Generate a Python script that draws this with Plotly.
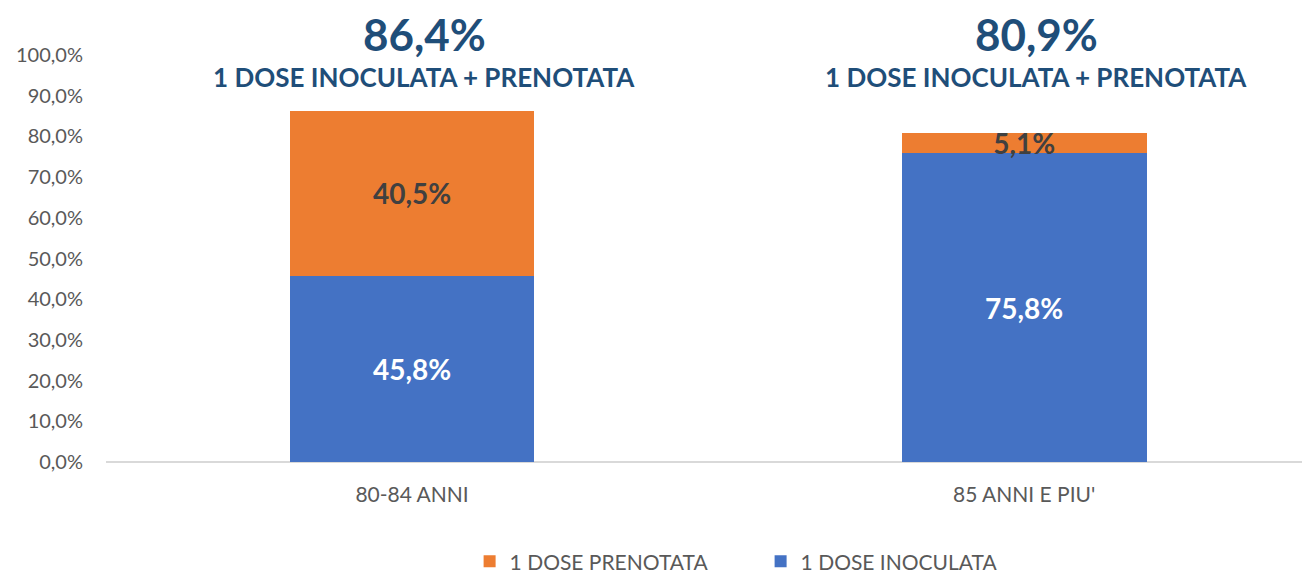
import plotly.graph_objects as go

categories = ["80-84 ANNI", "85 ANNI E PIU'"]
inoculata = [0.458, 0.758]
prenotata = [0.405, 0.051]
totals = [0.864, 0.809]
subtitle = "1 DOSE INOCULATA + PRENOTATA"
yticks = [i / 10 for i in range(11)]


def pct(v):
    return f"{v*100:.1f}%".replace(".", ",")


FONT = "Lato, Open Sans, sans-serif"
BLUE = "#4472C4"
ORANGE = "#ED7D31"
TITLE = "#1F4E79"

fig = go.Figure()
fig.add_trace(go.Bar(
    x=categories, y=inoculata, name="1 DOSE INOCULATA",
    marker=dict(color=BLUE, line=dict(width=0)), width=0.4,
    text=[pct(v) for v in inoculata], textposition="inside",
    insidetextanchor="middle",
    textfont=dict(family=FONT, size=28, color="white", weight="bold"),
))
fig.add_trace(go.Bar(
    x=categories, y=prenotata, name="1 DOSE PRENOTATA",
    marker=dict(color=ORANGE, line=dict(width=0)), width=0.4,
    text=[pct(v) for v in prenotata], textposition="inside",
    insidetextanchor="middle",
    textfont=dict(family=FONT, size=28, color="#404040", weight="bold"),
))

for i, c in enumerate(categories):
    fig.add_annotation(x=c, y=1.0, xref="x", yref="paper", yanchor="middle",
                       text=f"<b>{pct(totals[i])}</b>",
                       showarrow=False, xshift=12, yshift=21,
                       font=dict(family=FONT, size=44, color=TITLE))
    fig.add_annotation(x=c, y=1.0, xref="x", yref="paper", yanchor="middle",
                       text=f"<b>{subtitle}</b>",
                       showarrow=False, xshift=12, yshift=-22,
                       font=dict(family=FONT, size=26, color=TITLE))

fig.update_layout(
    width=1302, height=565,
    margin=dict(l=98, r=0, t=47, b=111, autoexpand=False),
    barmode="stack",
    plot_bgcolor="white", paper_bgcolor="white",
    uniformtext=dict(minsize=28, mode="show"),
    font=dict(family=FONT, size=20, color="#595959"),
    showlegend=True,
    legend=dict(orientation="h", x=0.302, xanchor="left", y=-0.245, yanchor="middle",
                traceorder="reversed", font=dict(family=FONT, size=21, color="#595959"),
                itemwidth=30, entrywidth=246, entrywidthmode="pixels"),
    xaxis=dict(range=[-0.5, 1.467], showgrid=False, showline=False, zeroline=False,
               automargin=False,
               tickfont=dict(family=FONT, size=21, color="#595959"), ticklabelstandoff=18),
    yaxis=dict(range=[0, 1.0], tickvals=yticks, ticktext=[pct(v) for v in yticks],
               showgrid=False, zeroline=True, zerolinecolor="#D9D9D9", zerolinewidth=2,
               showline=False, automargin=False,
               tickfont=dict(family=FONT, size=20, color="#595959"), ticklabelstandoff=22),
)

fig.write_html("out.html")
